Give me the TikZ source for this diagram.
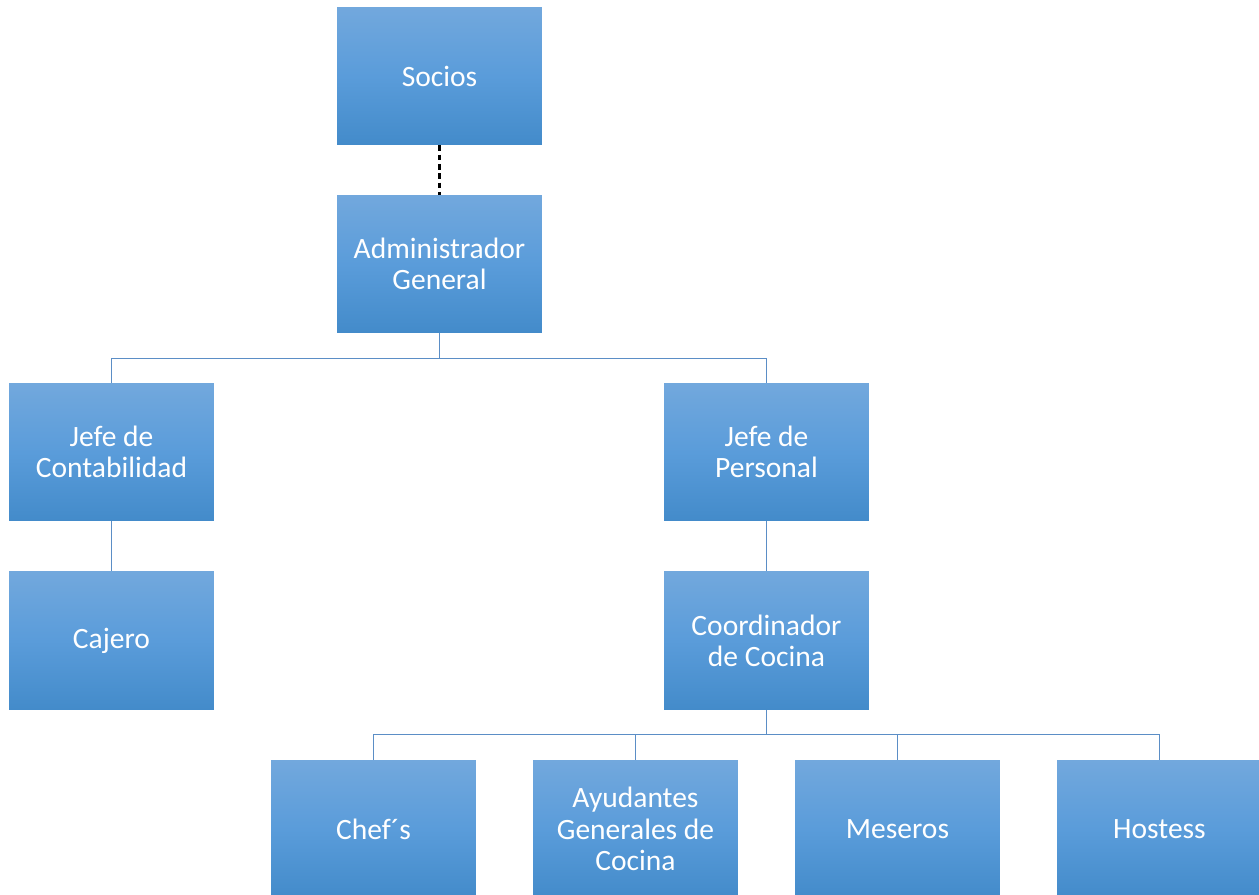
\documentclass[tikz,border=0pt]{standalone}
\usepackage{fontspec}
\setmainfont{Carlito}
\usepackage{xcolor}
\usetikzlibrary{positioning}
\definecolor{boxtop}{HTML}{72A8DD}
\definecolor{boxmid}{HTML}{5A9CDA}
\definecolor{boxbot}{HTML}{438BCA}
\definecolor{linkblue}{HTML}{5B8EC6}
\tikzset{puesto/.style={rectangle,minimum width=4.1cm,minimum height=2.76cm,
           top color=boxtop,bottom color=boxbot,middle color=boxmid,
           text=white,align=center,inner sep=2pt,
           font=\fontsize{16.8}{17.8}\selectfont},
         link/.style={linkblue,line width=0.6pt},
         dotlink/.style={black,line width=1.2pt,dash pattern=on 3.2pt off 2.1pt}}

\begin{document}
\begin{tikzpicture}[x=0.02cm,y=-0.02cm]
\clip (0,0) rectangle (1259,894);
\useasboundingbox (0,0) rectangle (1259,894);
% upper levels
\node[puesto] (socios) at (439.5,76) {Socios};
\node[puesto] (admin) at (439.5,264) {Administrador\\General};
\node[puesto] (jcont) at (111.5,452) {Jefe de\\Contabilidad};
\node[puesto] (jpers) at (766.5,452) {Jefe de\\Personal};
\node[puesto] (cajero) at (111.5,640.5) {Cajero};
\node[puesto] (coord) at (766.5,640.5) {Coordinador\\de Cocina};
% kitchen staff
\node[puesto] (chefs) at (373.5,829) {Chef´s};
\node[puesto] (ayud) at (635.5,829) {Ayudantes\\Generales de\\Cocina};
\node[puesto] (meseros) at (897.5,829) {Meseros};
\node[puesto] (hostess) at (1159.5,829) {Hostess};
% connectors
\draw[dotlink] (socios.south) -- (admin.north);
\foreach \j in {jcont,jpers}
  \draw[link] (admin.south) -- ++(0,25) -| (\j.north);
\draw[link] (jcont.south) -- (cajero.north);
\draw[link] (jpers.south) -- (coord.north);
\foreach \k in {chefs,ayud,meseros,hostess}
  \draw[link] (coord.south) -- ++(0,25) -| (\k.north);
\end{tikzpicture}
\end{document}
